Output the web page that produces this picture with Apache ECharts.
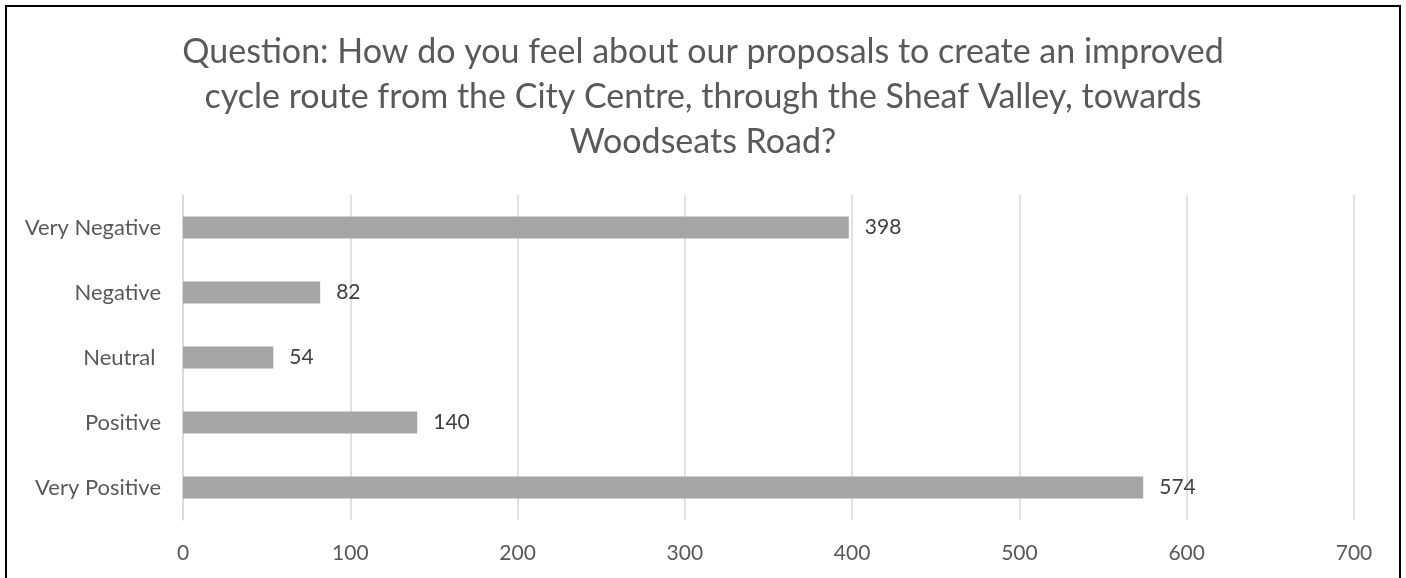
<!DOCTYPE html>
<html>
<head>
<meta charset="utf-8">
<script src="https://cdn.jsdelivr.net/npm/echarts@6/dist/echarts.min.js"></script>
<style>
html,body{margin:0;padding:0;background:#fff;}
#c{width:1406px;height:578px;}
</style>
</head>
<body>
<div id="c"></div>
<script>
var titleText = 'Question: How do you feel about our proposals to create an improved\ncycle route from the City Centre, through the Sheaf Valley, towards\nWoodseats Road?';
var categories = ['Very Positive', 'Positive', 'Neutral ', 'Negative', 'Very Negative'];
var responses = [574, 140, 54, 82, 398];
var xTicks = [0, 100, 200, 300, 400, 500, 600, 700];

var FONT = 'Lato, "Open Sans", sans-serif';
var chart = echarts.init(document.getElementById('c'), null, {renderer: 'canvas'});
chart.setOption({
  animation: false,
  backgroundColor: '#fff',
  graphic: [{
    type: 'rect',
    shape: {x: 6, y: 6, width: 1394, height: 600},
    style: {fill: 'none', stroke: '#000', lineWidth: 2},
    silent: true
  }, {
    type: 'text',
    x: 703,
    y: 30,
    style: {
      text: titleText,
      fontFamily: FONT,
      fontSize: 34,
      lineHeight: 45,
      fill: '#595959',
      align: 'center',
      verticalAlign: 'top'
    },
    silent: true
  }],
  grid: {left: 183, right: 52, top: 195, bottom: 58, containLabel: false},
  xAxis: {
    type: 'value',
    min: xTicks[0],
    max: xTicks[xTicks.length - 1],
    interval: 100,
    axisLine: {show: false},
    axisTick: {show: false},
    splitLine: {show: true, lineStyle: {color: '#D9D9D9', width: 1.5}},
    axisLabel: {fontFamily: FONT, fontSize: 21, color: '#595959', margin: 23}
  },
  yAxis: {
    type: 'category',
    data: categories,
    axisLine: {show: true, lineStyle: {color: '#D9D9D9', width: 1.5}},
    axisTick: {show: false},
    axisLabel: {fontFamily: FONT, fontSize: 22, color: '#595959', margin: 22}
  },
  series: [{
    type: 'bar',
    data: responses,
    barWidth: 22,
    itemStyle: {color: '#A5A5A5'},
    label: {
      show: true,
      position: 'right',
      distance: 16,
      fontFamily: FONT,
      fontSize: 21,
      color: '#404040'
    }
  }]
});
</script>
</body>
</html>
